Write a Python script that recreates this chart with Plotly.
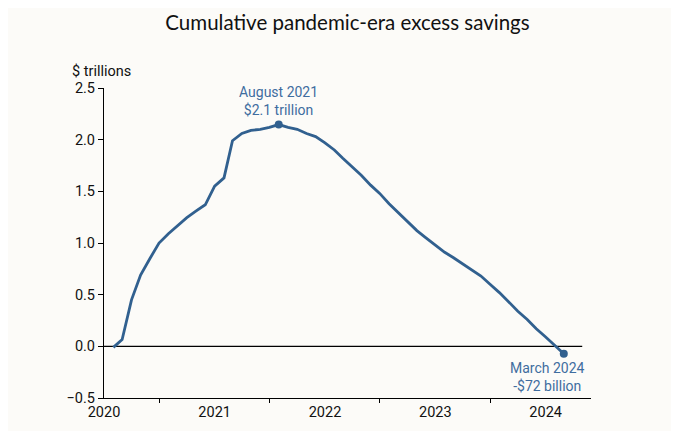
import plotly.graph_objects as go

# monthly cumulative excess savings, $ trillions
months = [
    "2020-02", "2020-03", "2020-04", "2020-05", "2020-06", "2020-07",
    "2020-08", "2020-09", "2020-10", "2020-11", "2020-12",
    "2021-01", "2021-02", "2021-03", "2021-04", "2021-05", "2021-06",
    "2021-07", "2021-08", "2021-09", "2021-10", "2021-11", "2021-12",
    "2022-01", "2022-02", "2022-03", "2022-04", "2022-05", "2022-06",
    "2022-07", "2022-08", "2022-09", "2022-10", "2022-11", "2022-12",
    "2023-01", "2023-02", "2023-03", "2023-04", "2023-05", "2023-06",
    "2023-07", "2023-08", "2023-09", "2023-10", "2023-11", "2023-12",
    "2024-01", "2024-02", "2024-03",
]
savings = [
    -0.01, 0.065, 0.45, 0.69, 0.85, 1.0,
    1.09, 1.17, 1.245, 1.31, 1.37,
    1.55, 1.63, 1.99, 2.06, 2.09, 2.10,
    2.12, 2.146, 2.12, 2.10, 2.06, 2.03,
    1.97, 1.90, 1.82, 1.735, 1.655, 1.56,
    1.48, 1.38, 1.29, 1.20, 1.12, 1.05,
    0.98, 0.91, 0.86, 0.80, 0.74, 0.68,
    0.60, 0.52, 0.43, 0.34, 0.26, 0.17,
    0.09, 0.003, -0.072,
]
highlight_months = ["2021-08", "2024-03"]
highlight_labels = ["August 2021<br>$2.1 trillion", "March 2024<br>-$72 billion"]
year_ticks = ["2020-01-01", "2021-01-01", "2022-01-01", "2023-01-01", "2024-01-01"]
year_labels = ["2020", "2021", "2022", "2023", "2024"]

LINE = "#31608f"
LABEL = "#3f6d9f"
BG = "#fcfbf8"

fig = go.Figure()
fig.add_trace(go.Scatter(
    x=months, y=savings, mode="lines",
    line=dict(color=LINE, width=2.8),
    hoverinfo="skip", showlegend=False,
))
hl_y = [savings[months.index(m)] for m in highlight_months]
fig.add_trace(go.Scatter(
    x=highlight_months, y=hl_y, mode="markers",
    marker=dict(color=LINE, size=8),
    hoverinfo="skip", showlegend=False,
))

# labels for peak and latest point
fig.add_annotation(x=highlight_months[0], y=hl_y[0], text=highlight_labels[0],
                   showarrow=False, yanchor="bottom", yshift=5,
                   font=dict(color=LABEL, size=14))
fig.add_annotation(x=highlight_months[1], y=hl_y[1], text=highlight_labels[1],
                   showarrow=False, yanchor="top", yshift=-4, xshift=-16,
                   font=dict(color=LABEL, size=14))

# zero reference line
fig.add_shape(type="line", xref="x", yref="y", x0="2020-01-01", x1="2024-05-01",
              y0=0, y1=0, line=dict(color="black", width=1.2), layer="below")

fig.add_annotation(x=-0.07, y=1.0, xref="paper", yref="paper",
                   text="$ trillions", showarrow=False,
                   xanchor="left", yanchor="bottom", yshift=6,
                   font=dict(size=14.5, color="#111"))

fig.update_layout(
    width=679, height=431,
    paper_bgcolor=BG, plot_bgcolor=BG,
    margin=dict(l=96, r=96, t=80, b=41),
    font=dict(family="Roboto", size=14.5, color="#111"),
    title=dict(text="Cumulative pandemic-era excess savings",
               x=0.5, xanchor="center", y=0.965, yanchor="middle",
               font=dict(family="Lato", size=20.5, color="#111")),
    xaxis=dict(
        range=["2020-01-01", "2024-05-30"],
        tickvals=year_ticks, ticktext=year_labels,
        ticks="", showgrid=False, zeroline=False,
        showline=True, linecolor="black", linewidth=1.2,
        minor=dict(ticks="outside", ticklen=4, tickcolor="black",
                   tick0="2020-07-01", dtick="M12", showgrid=False),
    ),
    yaxis=dict(
        range=[-0.5, 2.5], dtick=0.5, tickformat=".1f",
        ticks="outside", ticklen=5, tickcolor="black",
        showgrid=False, zeroline=False,
        showline=True, linecolor="black", linewidth=1.2,
    ),
)

fig.write_html("out.html")
